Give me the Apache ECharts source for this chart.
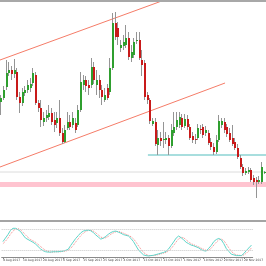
<!DOCTYPE html>
<html><head><meta charset="utf-8">
<script src="https://cdn.jsdelivr.net/npm/echarts@6/dist/echarts.min.js"></script>
<style>html,body{margin:0;padding:0;background:#fff}#c{width:266px;height:266px}</style>
</head><body><div id="c"></div>
<script>
// Price values (points), one per daily candle
const opens = [118,122,133,147,150,146,148,123,117,127,
  130,132,137,145,117,112,98,102,103,107,
  100,97,102,87,78,92,98,95,97,95,
  110,135,140,135,135,153,135,140,130,120,
  132,128,152,197,192,172,174,175,182,162,
  165,179,180,160,157,125,120,96,98,75,
  82,80,80,82,74,87,93,95,102,94,
  101,93,84,81,82,91,93,87,87,78,
  73,68,80,95,98,93,87,82,78,72,
  62,53,47,48,50,42,40,38,38,47];
const closes = [122,130,147,150,146,150,123,117,128,130,
  135,136,147,117,112,100,102,105,107,98,
  95,102,87,78,90,98,93,102,90,110,
  138,140,134,132,153,140,140,130,123,125,
  122,152,197,183,183,175,178,182,163,168,
  178,180,162,155,123,120,99,99,76,82,
  79,81,82,74,90,93,100,103,93,101,
  93,82,80,80,92,90,85,90,77,73,
  68,80,99,99,90,86,80,76,72,63,
  53,47,49,50,40,38,38,40,53,48];
const lows = [105,120,130,144,140,142,120,107,114,124,
  127,128,134,115,108,93,94,98,100,95,
  88,92,84,76,77,90,90,92,87,93,
  108,130,128,125,132,136,125,122,115,118,
  120,125,150,180,175,168,170,172,160,158,
  162,176,160,144,120,116,96,94,74,65,
  74,72,76,65,72,84,90,92,90,92,
  90,80,77,76,80,86,82,84,75,70,
  65,66,78,92,87,83,78,74,70,61,
  51,44,45,46,38,35,22,36,36,46];
const highs = [125,134,160,158,154,161,152,128,132,134,
  140,142,152,148,120,120,108,110,115,112,
  108,108,120,92,95,108,105,108,102,115,
  148,145,144,140,162,158,150,145,135,132,
  136,162,207,208,198,180,185,195,188,175,
  182,188,188,170,160,128,122,102,102,90,
  88,98,88,85,96,108,108,108,106,106,
  105,96,88,86,96,95,96,94,90,82,
  77,85,105,102,102,96,92,95,82,76,
  65,56,52,53,52,45,43,44,58,49];
// Stochastic oscillator (%K main, %D signal)
const stochMain = [44,54,64,76,82,82,78,73,63,54,
  50,46,42,37,30,23,18,15,14,14,
  15,15,15,16,17,19,22,33,43,53,
  61,69,74,76,77,75,70,63,57,51,
  54,59,65,70,73,74,71,68,64,62,
  60,53,44,32,20,13,6,4,3,4,
  5,7,9,11,13,16,23,33,43,54,
  60,55,49,42,38,34,32,29,26,21,
  18,17,25,33,44,50,53,49,38,24,
  16,8,6,4,4,4,10,19,26,34];
const stochSignal = [38,45,54,65,74,80,81,78,71,63,
  56,50,46,42,36,30,24,19,16,14,
  14,15,15,15,16,17,19,25,33,43,
  52,61,68,73,76,76,74,69,63,57,
  54,55,59,65,69,72,73,71,68,65,
  62,58,52,43,32,22,13,8,4,4,
  4,5,7,9,11,13,17,24,33,43,
  52,56,55,49,43,38,35,32,29,25,
  22,19,20,25,34,42,49,51,47,37,
  26,16,10,6,5,4,6,11,18,26];
const stochLevels = [20, 80];
const tickLabels = ['9 Aug 2017','18 Aug 2017','28 Aug 2017','6 Sep 2017','15 Sep 2017','25 Sep 2017',
  '4 Oct 2017','13 Oct 2017','23 Oct 2017','1 Nov 2017','10 Nov 2017','20 Nov 2017','29 Nov 2017'];
const labelEvery = 8;
// Drawn analysis objects: [candle index, price]
const upperChannel = [[-0.5,160],[59.6,218.3]];
const lowerChannel = [[-0.5,53],[84.1,137]];
const supportLine = [[55.1,65],[99.5,65]];
const grayLevel = 48;
const pinkZone = [33, 38];

const categories = opens.map((_, i) => String(i));
const candleData = opens.map((o, i) => [i, o, closes[i], lows[i], highs[i]]);

function renderCandle(params, api) {
  const i = api.value(0), o = api.value(1), c = api.value(2), l = api.value(3), h = api.value(4);
  const pl = api.coord([i, l]), ph = api.coord([i, h]);
  const po = api.coord([i, o]), pc = api.coord([i, c]);
  const r = Math.round(pl[0]);
  const top = Math.min(po[1], pc[1]);
  const bh = Math.max(Math.abs(po[1] - pc[1]), 1);
  return { type: 'group', children: [
    { type: 'line', shape: { x1: r - 0.5, y1: ph[1], x2: r - 0.5, y2: pl[1] }, style: { stroke: '#959595', lineWidth: 1 } },
    { type: 'rect', shape: { x: r - 1, y: top, width: 2, height: bh }, style: { fill: c >= o ? '#2f9f2f' : '#c81a1a' } }
  ]};
}

const chart = echarts.init(document.getElementById('c'), null, { renderer: 'canvas' });
chart.setOption({
  animation: false,
  backgroundColor: '#ffffff',
  grid: [
    { left: 0, right: 0, top: 2, height: 218 },
    { left: 0, right: 0, top: 222, height: 35 }
  ],
  xAxis: [
    { type: 'value', gridIndex: 0, min: -0.5, max: 99.5, show: false },
    { type: 'category', gridIndex: 1, data: categories, boundaryGap: true,
      axisLine: { show: true, lineStyle: { color: '#8a8a8a', width: 1 } },
      axisTick: { show: true, alignWithLabel: true, length: 2, interval: (idx) => idx % labelEvery === 0, lineStyle: { color: '#8a8a8a' } },
      axisLabel: { show: true, interval: (idx) => idx % labelEvery === 0, formatter: (v, idx) => tickLabels[idx / labelEvery] || '',
        fontSize: 3, color: '#444', align: 'left', margin: 2, fontFamily: 'DejaVu Sans' },
      splitLine: { show: false } }
  ],
  yAxis: [
    { type: 'value', gridIndex: 0, min: 0, max: 218, show: false },
    { type: 'value', gridIndex: 1, min: 0, max: 100, show: false }
  ],
  series: [
    { type: 'line', xAxisIndex: 0, yAxisIndex: 0, data: [[-0.5, grayLevel], [99.5, grayLevel]], symbol: 'none',
      lineStyle: { color: '#dcdcdc', width: 1 }, z: 1,
      markArea: { silent: true, itemStyle: { color: '#ffc4d0' }, data: [[{ yAxis: pinkZone[0] }, { yAxis: pinkZone[1] }]] } },
    { type: 'line', xAxisIndex: 0, yAxisIndex: 0, data: supportLine, symbol: 'none',
      lineStyle: { color: '#a8dede', width: 2 }, z: 2 },
    { type: 'line', xAxisIndex: 0, yAxisIndex: 0, data: upperChannel, symbol: 'none',
      lineStyle: { color: '#f57c68', width: 1 }, z: 2 },
    { type: 'line', xAxisIndex: 0, yAxisIndex: 0, data: lowerChannel, symbol: 'none',
      lineStyle: { color: '#f57c68', width: 1 }, z: 2 },
    { type: 'custom', xAxisIndex: 0, yAxisIndex: 0, data: candleData, renderItem: renderCandle,
      encode: { x: 0, y: [1, 2, 3, 4] }, z: 3, clip: true },
    { type: 'line', xAxisIndex: 1, yAxisIndex: 1, data: stochSignal, symbol: 'none',
      lineStyle: { color: '#f28a8a', width: 1, type: 'dotted' }, z: 2,
      markLine: { silent: true, symbol: 'none', label: { show: false },
        lineStyle: { color: '#c8c8c8', type: 'dotted', width: 1 },
        data: stochLevels.map(v => ({ yAxis: v })) } },
    { type: 'line', xAxisIndex: 1, yAxisIndex: 1, data: stochMain, symbol: 'none',
      lineStyle: { color: '#5ed4c8', width: 1 }, z: 3 }
  ],
  graphic: [
    { type: 'rect', shape: { x: 0, y: 0, width: 266, height: 2 }, style: { fill: '#a8a8a8' }, z: 10 },
    { type: 'rect', shape: { x: 0, y: 220, width: 266, height: 2 }, style: { fill: '#a4a4a4' }, z: 10 }
  ]
});
</script></body></html>
